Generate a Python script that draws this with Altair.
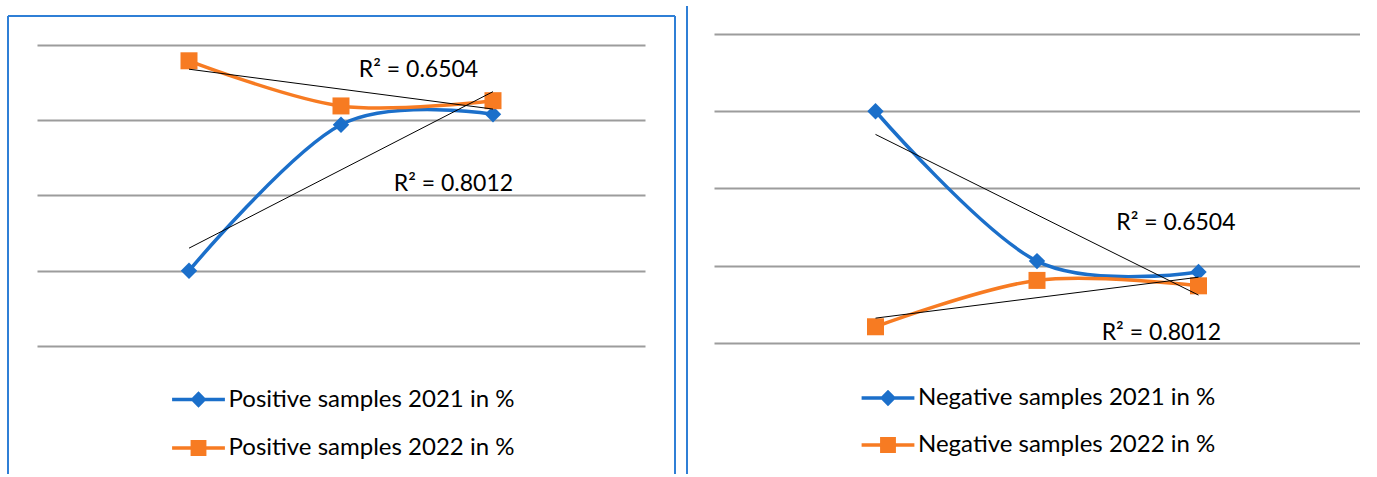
import altair as alt
import pandas as pd

# ---- data ----
x_vals = [1, 2, 3]
pos_2021 = [10.0, 29.4, 30.8]
pos_2022 = [37.9, 31.9, 32.6]
neg_2021 = [90.0, 70.6, 69.2]
neg_2022 = [62.1, 68.1, 67.4]
pos_names = ["Positive samples 2021 in %", "Positive samples 2022 in %"]
neg_names = ["Negative samples 2021 in %", "Negative samples 2022 in %"]
r2_labels = ["R² = 0.6504", "R² = 0.8012"]
grid_pos = [0, 10, 20, 30, 40]
grid_neg = [60, 70, 80, 90, 100]
# trendline label anchors (data units)
pos_r2_x = [2.51, 2.74]
pos_r2_y = [36.7, 21.5]
neg_r2_x = [2.86, 2.77]
neg_r2_y = [75.5, 61.3]

BLUE = "#1b6fca"
ORANGE = "#f77b22"
BORDER = "#2f7fd6"
FONT = "Lato"

# legend symbols: line stub + marker (unit coords, 1 unit = 24 px)
t = 0.073
d = 0.34
s = 0.33
L = 1.1
DIAMOND_PATH = (f"M{-L},{-t}L{-(d - t)},{-t}L0,{-d}L{d - t},{-t}L{L},{-t}"
                f"L{L},{t}L{d - t},{t}L0,{d}L{-(d - t)},{t}L{-L},{t}Z")
SQUARE_PATH = (f"M{-L},{-t}L{-s},{-t}L{-s},{-s}L{s},{-s}L{s},{-t}L{L},{-t}"
               f"L{L},{t}L{s},{t}L{s},{s}L{-s},{s}L{-s},{t}L{-L},{t}Z")


def panel(names, s21, s22, ydomain, grid, r2x, r2y, width, height, legxy, decor):
    df = pd.DataFrame({"x": x_vals * 2, "y": s21 + s22,
                       "series": [names[0]] * 3 + [names[1]] * 3})
    lab = pd.DataFrame({"x": r2x, "y": r2y, "t": r2_labels})
    xs = alt.Scale(domain=[0, 4], nice=False, zero=False)
    ys = alt.Scale(domain=ydomain, nice=False, zero=False)
    X = alt.X("x:Q", scale=xs, axis=None)
    Y = alt.Y("y:Q", scale=ys,
              axis=alt.Axis(values=grid, labels=False, ticks=False, domain=False,
                            title=None, grid=True, gridColor="#9c9c9c", gridWidth=1.8))
    base = alt.Chart(df)
    layers = []
    for name, col, shape, size in [(names[0], BLUE, "diamond", 270),
                                   (names[1], ORANGE, "square", 289)]:
        sub = base.transform_filter(alt.datum.series == name)
        layers.append(sub.mark_line(interpolate="cardinal", color=col,
                                    strokeWidth=3.5).encode(x=X, y=Y))
        layers.append(sub.mark_point(shape=shape, filled=True, opacity=1, size=size,
                                     color=col).encode(x=X, y=Y))
    for name in names:
        sub = base.transform_filter(alt.datum.series == name).transform_regression("x", "y")
        layers.append(sub.mark_line(color="black", strokeWidth=1).encode(x=X, y=Y))
    layers.append(alt.Chart(lab).mark_text(font=FONT, fontSize=23, color="black",
                                           align="center", baseline="middle")
                  .encode(x=X, y=Y, text="t:N"))
    leg = alt.Legend(orient="none", legendX=legxy[0], legendY=legxy[1], title=None,
                     labelFont=FONT, labelFontSize=24, labelColor="black",
                     symbolSize=2304, symbolStrokeWidth=0, labelOffset=6,
                     rowPadding=legxy[2], padding=0, symbolOpacity=1, labelLimit=500)
    layers.append(base.transform_filter("false").mark_point(filled=True, opacity=1, size=2304)
                  .encode(x=X, y=Y,
                          color=alt.Color("series:N", scale=alt.Scale(domain=names, range=[BLUE, ORANGE]), legend=leg),
                          shape=alt.Shape("series:N", scale=alt.Scale(domain=names, range=[DIAMOND_PATH, SQUARE_PATH]), legend=leg)))
    one = alt.Chart(pd.DataFrame({"k": [0]}))
    for (x1, x2, y1, y2, col) in decor:
        enc = dict(x=alt.value(x1), y=alt.value(y1))
        if x2 is not None:
            enc["x2"] = alt.value(x2)
        if y2 is not None:
            enc["y2"] = alt.value(y2)
        layers.append(one.mark_rule(color=col, strokeWidth=2).encode(**enc))
    return alt.layer(*layers).properties(width=width, height=height)


left = panel(pos_names, pos_2021, pos_2022, [0, 41.46], grid_pos, pos_r2_x, pos_r2_y,
             608, 312, (137.5, 341.5, 12.5),
             [(-29, None, -18, 440, BORDER),
              (-29, 638, -18, None, BORDER),
              (638, None, -18, 440, BORDER),
              (650, None, -28, 440, BORDER)])
right = panel(neg_names, neg_2021, neg_2022, [59.61, 100], grid_neg, neg_r2_x, neg_r2_y,
              646, 312, (150, 340, 11),
              [(10, 11, -28, None, "white")])

chart = alt.hconcat(left, right, spacing=26).resolve_scale(
    color="independent", shape="independent"
).resolve_legend(
    color="independent", shape="independent"
).properties(
    padding={"left": 7, "top": 5, "right": 0, "bottom": 0},
    background="white",
).configure_view(stroke=None)

chart.save("out.html", embed_options={"renderer": "svg", "actions": False})
